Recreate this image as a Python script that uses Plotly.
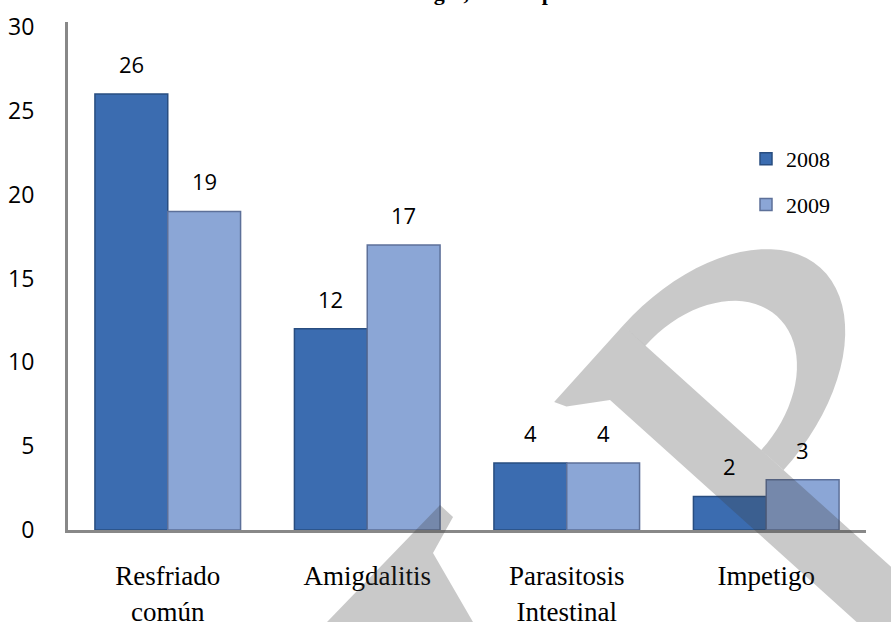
import math
import plotly.graph_objects as go

categories = ["Resfriado<br>común", "Amigdalitis", "Parasitosis<br>Intestinal", "Impetigo"]
series_names = ["2008", "2009"]
values_2008 = [26, 12, 4, 2]
values_2009 = [19, 17, 4, 3]
y_ticks = [0, 5, 10, 15, 20, 25, 30]
title_text = "Morbilidad en Hogar, Municipio"

W, H = 891, 622
ML, MR, MT, MB = 68, 25, 22, 92
PW, PH = W - ML - MR, H - MT - MB

def px(x):
    return (x - ML) / PW

def py(y):
    return (H - MB - y) / PH

colors = ["#3b6cb0", "#8ba6d6"]
edge = ["#284d80", "#5d7099"]

fig = go.Figure()
for name, vals, c, e in zip(series_names, [values_2008, values_2009], colors, edge):
    fig.add_trace(go.Bar(
        name=name, x=categories, y=vals,
        marker=dict(color=c, line=dict(color=e, width=1.5)),
        legendgroup=name,
    ))

# data labels
bargap = 0.27
bar_px = PW / len(categories) * (1 - bargap) / 2
annotations = []
for j, vals in enumerate([values_2008, values_2009]):
    for cat, v in zip(categories, vals):
        annotations.append(dict(
            x=cat, y=v, xref="x", yref="y", text=str(v), showarrow=False,
            xshift=(j - 0.5) * bar_px, yshift=30, yanchor="middle",
            font=dict(family="Open Sans", size=22, color="#000000"),
        ))

# partially visible title
annotations.append(dict(
    x=px(263), y=py(7), xref="paper", yref="paper", xanchor="left", yanchor="bottom",
    text="<b>" + title_text + "</b>", showarrow=False,
    font=dict(family="Liberation Serif", size=22, color="#000000"),
))

# watermark: rotated "P" described in a letter frame (u along stem, v across)
ca, sa = 0.743, 0.669
def uv(u, v):
    return (u * ca + v * sa, u * sa - v * ca)

bowl = []
N = 40
for k in range(N + 1):
    t = math.pi * k / N
    bowl.append(uv(789 - 108 * math.cos(t), 175 + 175 * math.sin(t)))
for k in range(N, -1, -1):
    t = math.pi * k / N
    bowl.append(uv(789 - 78 * math.cos(t), 175 + 110 * math.sin(t)))
stem = [uv(681, 72), uv(681, 175), uv(1100, 175), uv(1100, 111), uv(721, 111), uv(693, 77)]
foot = [(327, 622), (440, 505), (453, 517), (433, 553), (473, 622)]

shapes = []
for poly in [foot, bowl, stem]:
    path = "M " + " L ".join(f"{px(a):.4f},{py(b):.4f}" for a, b in poly) + " Z"
    shapes.append(dict(type="path", path=path, xref="paper", yref="paper",
                       fillcolor="rgba(60,60,60,0.28)", line=dict(width=0), layer="above"))

fig.update_layout(
    width=W, height=H,
    margin=dict(l=ML, r=MR, t=MT, b=MB, pad=0, autoexpand=False),
    paper_bgcolor="white", plot_bgcolor="white",
    barmode="group", bargap=bargap, bargroupgap=0,
    showlegend=True,
    legend=dict(x=px(746), y=py(138), xanchor="left", yanchor="top",
                font=dict(family="Liberation Serif", size=22, color="#000000"),
                tracegroupgap=14, itemwidth=30, bgcolor="rgba(0,0,0,0)"),
    annotations=annotations,
    shapes=shapes,
)
fig.update_xaxes(
    showline=True, linecolor="#888888", linewidth=3, showgrid=False, ticks="",
    tickfont=dict(family="Liberation Serif", size=27, color="#000000"),
    ticklabelstandoff=20, automargin=False,
)
fig.update_yaxes(
    range=[0, 30.3], tickvals=y_ticks, ticktext=[str(t) for t in y_ticks],
    showline=True, linecolor="#888888", linewidth=3, showgrid=False, ticks="",
    zeroline=False, automargin=False,
    tickfont=dict(family="Open Sans", size=23, color="#000000"),
    ticklabelstandoff=26,
)
fig.write_html("out.html", config={"displayModeBar": False},
               post_script="document.body.style.margin='0';document.body.style.overflow='hidden';")
